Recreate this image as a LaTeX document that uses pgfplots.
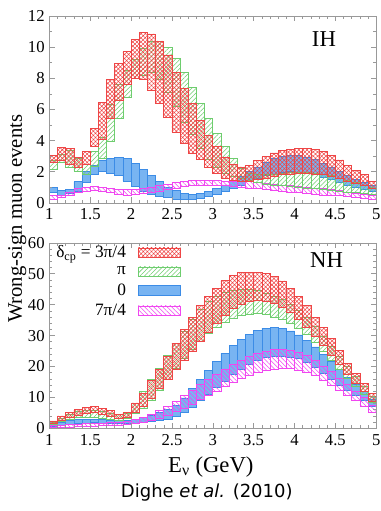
\documentclass[border=0pt]{standalone}
\usepackage{pgfplots}
\pgfplotsset{compat=1.18}
\usepackage{pgfplotstable}
\usetikzlibrary{patterns.meta}
\usepackage{fontspec}
\setmainfont{Liberation Serif}
\newfontfamily\capfont{DejaVu Sans}

\definecolor{cred}{RGB}{238,70,70}
\definecolor{cgreen}{RGB}{110,205,110}
\definecolor{cblue}{RGB}{60,140,230}
\definecolor{cbluefill}{RGB}{120,180,242}
\definecolor{cmag}{RGB}{240,70,240}

% x ru rl gu gl bu bl mu ml  (u = upper, l = lower; r=3pi/4, g=pi, b=0, m=7pi/4)
\pgfplotstableread{
x ru rl gu gl bu bl mu ml
1.05 3.05 2.6 2.7 2.15 1.0 0.65 0.45 0.25
1.15 3.55 2.75 3.1 2.6 0.8 0.5 0.5 0.35
1.25 3.5 2.5 3.4 2.3 0.85 0.6 0.7 0.45
1.35 2.9 2.25 2.85 2.05 1.35 0.75 0.95 0.65
1.45 3.3 2.45 2.45 1.85 2.0 1.3 1.0 0.75
1.55 4.8 3.6 3.3 2.35 2.4 1.8 1.05 0.8
1.65 6.45 4.1 4.2 2.85 2.7 2.0 1.0 0.75
1.75 7.9 5.4 6.3 3.95 2.85 1.9 0.9 0.65
1.85 8.95 6.6 7.6 5.4 2.9 1.75 0.85 0.55
1.95 9.7 7.6 8.5 6.8 2.85 1.4 0.85 0.5
2.05 10.5 8.0 9.2 8.0 2.55 1.05 0.85 0.55
2.15 10.95 7.9 9.9 8.2 2.15 0.75 0.9 0.6
2.25 10.85 7.25 10.35 8.4 1.75 0.55 1.0 0.65
2.35 10.35 6.4 10.4 7.9 1.35 0.42 1.1 0.75
2.45 9.5 5.5 10.0 7.1 1.0 0.32 1.2 0.85
2.55 8.35 4.55 9.3 6.2 0.8 0.25 1.3 0.95
2.65 7.35 3.8 8.4 5.2 0.6 0.22 1.4 1.05
2.75 6.4 3.2 7.4 4.4 0.52 0.22 1.45 1.1
2.85 5.3 2.8 6.4 3.5 0.6 0.3 1.45 1.15
2.95 4.35 2.3 5.4 2.8 0.75 0.4 1.45 1.15
3.05 3.6 1.9 4.45 2.3 0.95 0.55 1.45 1.15
3.15 2.95 1.6 3.6 1.9 1.15 0.75 1.4 1.1
3.25 2.5 1.45 2.85 1.7 1.4 0.95 1.4 1.05
3.35 2.3 1.4 2.2 1.55 1.7 1.15 1.35 1.0
3.45 2.4 1.4 1.9 1.45 2.0 1.35 1.35 0.95
3.55 2.7 1.5 1.8 1.3 2.3 1.55 1.3 0.9
3.65 3.0 1.6 1.8 1.2 2.6 1.75 1.25 0.85
3.75 3.2 1.7 1.85 1.15 2.85 1.85 1.2 0.8
3.85 3.35 1.8 1.9 1.1 3.0 1.95 1.15 0.75
3.95 3.45 1.85 1.95 1.05 3.05 2.0 1.1 0.7
4.05 3.5 1.9 1.95 1.0 3.05 1.95 1.05 0.65
4.15 3.5 1.9 1.95 0.95 2.95 1.9 1.0 0.6
4.25 3.45 1.85 1.9 0.9 2.8 1.8 0.95 0.55
4.35 3.3 1.8 1.85 0.85 2.55 1.65 0.9 0.5
4.45 3.05 1.7 1.75 0.8 2.3 1.5 0.85 0.45
4.55 2.75 1.55 1.6 0.75 2.0 1.3 0.8 0.45
4.65 2.4 1.4 1.45 0.7 1.75 1.15 0.7 0.4
4.75 2.1 1.25 1.3 0.65 1.5 1.0 0.6 0.35
4.85 1.8 1.1 1.15 0.6 1.3 0.85 0.55 0.3
4.95 1.4 0.95 1.0 0.55 1.1 0.75 0.45 0.25
}\IH

\pgfplotstableread{
x ru rl gu gl bu bl mu ml
1.05 2.4 1.5 2.0 1.2 1.5 0.5 0.8 0.2
1.15 4.0 2.6 3.2 2.2 2.0 0.8 1.0 0.3
1.25 5.2 3.6 4.5 3.0 2.5 1.2 1.2 0.4
1.35 6.2 4.3 5.4 3.5 2.8 1.5 1.4 0.5
1.45 6.8 4.8 5.8 3.7 3.0 1.7 1.5 0.6
1.55 7.2 5.0 5.9 3.7 3.0 1.8 1.6 0.7
1.65 6.5 4.6 5.6 3.3 2.8 1.7 1.7 0.8
1.75 5.7 3.9 4.9 2.9 2.6 1.6 1.8 0.9
1.85 4.6 3.3 4.4 2.7 2.5 1.5 2.0 1.0
1.95 5.0 3.4 4.8 3.2 2.6 1.5 2.3 1.2
2.05 8.2 5.3 8.0 4.7 3.0 1.7 2.8 1.5
2.15 11.4 7.2 12.0 6.4 3.5 1.9 3.5 1.9
2.25 15.5 9.8 15.8 9.0 4.2 2.2 4.5 2.5
2.35 19.0 12.8 19.5 12.3 5.0 2.6 5.8 3.3
2.45 23.3 15.8 23.5 15.7 6.0 3.0 7.2 4.3
2.55 27.4 19.0 27.5 19.3 7.5 3.8 8.8 5.4
2.65 31.9 22.0 31.3 22.5 9.8 5.2 10.5 6.6
2.75 36.0 25.0 35.2 25.5 12.8 6.9 12.3 7.9
2.85 39.8 28.2 38.5 28.2 15.8 8.9 14.1 9.3
2.95 42.7 31.2 41.0 30.6 18.7 11.0 15.9 10.7
3.05 45.2 34.0 42.8 32.7 21.5 13.2 17.6 12.1
3.15 47.9 36.6 44.0 34.4 24.2 15.3 19.2 13.5
3.25 49.5 38.7 44.7 35.7 26.7 17.3 20.7 14.8
3.35 50.3 40.2 45.0 36.6 28.8 19.2 22.0 16.0
3.45 50.4 41.1 45.0 37.0 30.5 20.8 23.2 17.1
3.55 50.4 41.4 44.6 37.1 31.7 22.1 24.2 18.0
3.65 50.0 41.2 43.8 36.8 32.4 23.0 25.0 18.7
3.75 49.0 40.5 42.8 36.0 32.6 23.4 25.5 19.2
3.85 47.7 39.2 41.6 35.2 32.3 23.4 25.6 19.4
3.95 45.2 37.4 40.0 34.0 31.5 23.1 25.3 19.3
4.05 42.7 35.2 38.3 32.4 30.2 22.5 24.6 18.9
4.15 39.8 32.6 35.8 30.3 28.5 21.2 23.5 18.1
4.25 36.0 29.8 33.0 27.8 26.3 19.6 22.0 17.0
4.35 32.6 26.8 29.8 25.0 24.0 17.8 20.2 15.6
4.45 29.0 23.7 26.5 22.0 21.5 15.9 18.3 14.0
4.55 25.2 20.6 23.2 19.0 19.0 14.0 16.2 12.3
4.65 20.9 17.6 19.9 16.2 16.5 12.2 14.1 10.6
4.75 17.7 14.7 16.8 13.6 14.2 10.5 12.1 8.9
4.85 14.5 12.0 13.6 11.0 12.0 8.9 10.1 7.2
4.95 11.2 8.6 10.3 8.3 9.5 7.0 7.5 5.0
}\NH

\pgfplotsset{
  panel/.style={width=245pt, scale only axis, xmin=1, xmax=5, ymin=0, anchor=south west},
  band/.style={panel, hide axis, ybar stacked, bar width=0.1},
  redband/.style={draw=cred, line width=0.5pt, pattern={Hatch[angle=45,distance=2.2pt,line width=0.4pt]}, pattern color=cred},
  greenband/.style={draw=cgreen, line width=0.5pt, pattern={Lines[angle=45,distance=2.4pt,line width=0.4pt]}, pattern color=cgreen},
  blueband/.style={draw=cblue, line width=0.5pt, fill=cbluefill},
  magband/.style={draw=cmag, line width=0.5pt, pattern={Lines[angle=-45,distance=2.4pt,line width=0.4pt]}, pattern color=cmag},
  frame/.style={panel,
    xtick={1,1.5,2,2.5,3,3.5,4,4.5,5},
    minor x tick num=4,
    tick align=inside,
    major tick length=4pt, minor tick length=2.2pt,
    every tick/.style={gray!80},
    axis line style={gray!80},
    /pgf/number format/assume math mode=true,
    tick label style={font=\fontsize{12.5}{14}\selectfont},
    xticklabel style={yshift=-1pt},
  },
}

\begin{document}
\begin{tikzpicture}
\path[use as bounding box] (-37pt,-62pt) rectangle (248pt,321pt);

% ---------------- NH (bottom) -----------------
\begin{axis}[band, at={(0,0)}, height=139pt, ymax=60]
\addplot[draw=none, fill=none] table[x=x, y=bl]{\NH};
\addplot[blueband] table[x=x, y expr=\thisrow{bu}-\thisrow{bl}]{\NH};
\end{axis}
\begin{axis}[band, at={(0,0)}, height=139pt, ymax=60]
\addplot[draw=none, fill=none] table[x=x, y=ml]{\NH};
\addplot[magband] table[x=x, y expr=\thisrow{mu}-\thisrow{ml}]{\NH};
\end{axis}
\begin{axis}[band, at={(0,0)}, height=139pt, ymax=60]
\addplot[draw=none, fill=none] table[x=x, y=gl]{\NH};
\addplot[greenband] table[x=x, y expr=\thisrow{gu}-\thisrow{gl}]{\NH};
\end{axis}
\begin{axis}[band, at={(0,0)}, height=139pt, ymax=60]
\addplot[draw=none, fill=none] table[x=x, y=rl]{\NH};
\addplot[redband] table[x=x, y expr=\thisrow{ru}-\thisrow{rl}]{\NH};
\end{axis}
\begin{axis}[frame, at={(0,0)}, height=139pt, ymax=60,
    ytick={0,10,20,30,40,50,60}, minor y tick num=4,
    legend image code/.code={\draw[#1] (0pt,-3.6pt) rectangle (31.5pt,3.6pt);},
    legend plot pos=right, legend cell align=right,
    legend style={at={(0.0,1.015)}, anchor=north west, draw=none, fill=none,
      font=\fontsize{13}{15}\selectfont, row sep=1.2pt,
      /tikz/every odd column/.append style={column sep=7pt}}]
\addlegendimage{redband}
\addlegendentry{δ\textsubscript{cp} = 3π/4}
\addlegendimage{greenband}
\addlegendentry{π}
\addlegendimage{blueband}
\addlegendentry{0}
\addlegendimage{magband}
\addlegendentry{7π/4}
\node[font=\fontsize{17}{19}\selectfont] at (rel axis cs:0.848,0.905) {NH};
\end{axis}

% ---------------- IH (top) -----------------
\begin{axis}[band, at={(0,169pt)}, height=140pt, ymax=12]
\addplot[draw=none, fill=none] table[x=x, y=bl]{\IH};
\addplot[blueband] table[x=x, y expr=\thisrow{bu}-\thisrow{bl}]{\IH};
\end{axis}
\begin{axis}[band, at={(0,169pt)}, height=140pt, ymax=12]
\addplot[draw=none, fill=none] table[x=x, y=ml]{\IH};
\addplot[magband] table[x=x, y expr=\thisrow{mu}-\thisrow{ml}]{\IH};
\end{axis}
\begin{axis}[band, at={(0,169pt)}, height=140pt, ymax=12]
\addplot[draw=none, fill=none] table[x=x, y=gl]{\IH};
\addplot[greenband] table[x=x, y expr=\thisrow{gu}-\thisrow{gl}]{\IH};
\end{axis}
\begin{axis}[band, at={(0,169pt)}, height=140pt, ymax=12]
\addplot[draw=none, fill=none] table[x=x, y=rl]{\IH};
\addplot[redband] table[x=x, y expr=\thisrow{ru}-\thisrow{rl}]{\IH};
\end{axis}
\begin{axis}[frame, at={(0,169pt)}, height=140pt, ymax=12,
    ytick={0,2,4,6,8,10,12}, minor y tick num=1]
\node[font=\fontsize{17}{19}\selectfont] at (rel axis cs:0.84,0.875) {IH};
\end{axis}

% labels
\node[rotate=90, font=\fontsize{15.5}{18}\selectfont] at (-24pt,157pt) {Wrong-sign muon events};
\node[font=\fontsize{17}{20}\selectfont] at (121pt,-29pt) {E\textsubscript{ν} (GeV)};
\node[font=\capfont\fontsize{13.5}{16}\selectfont] at (118pt,-48pt) {Dighe \textit{et al.} (2010)};
\end{tikzpicture}
\end{document}
